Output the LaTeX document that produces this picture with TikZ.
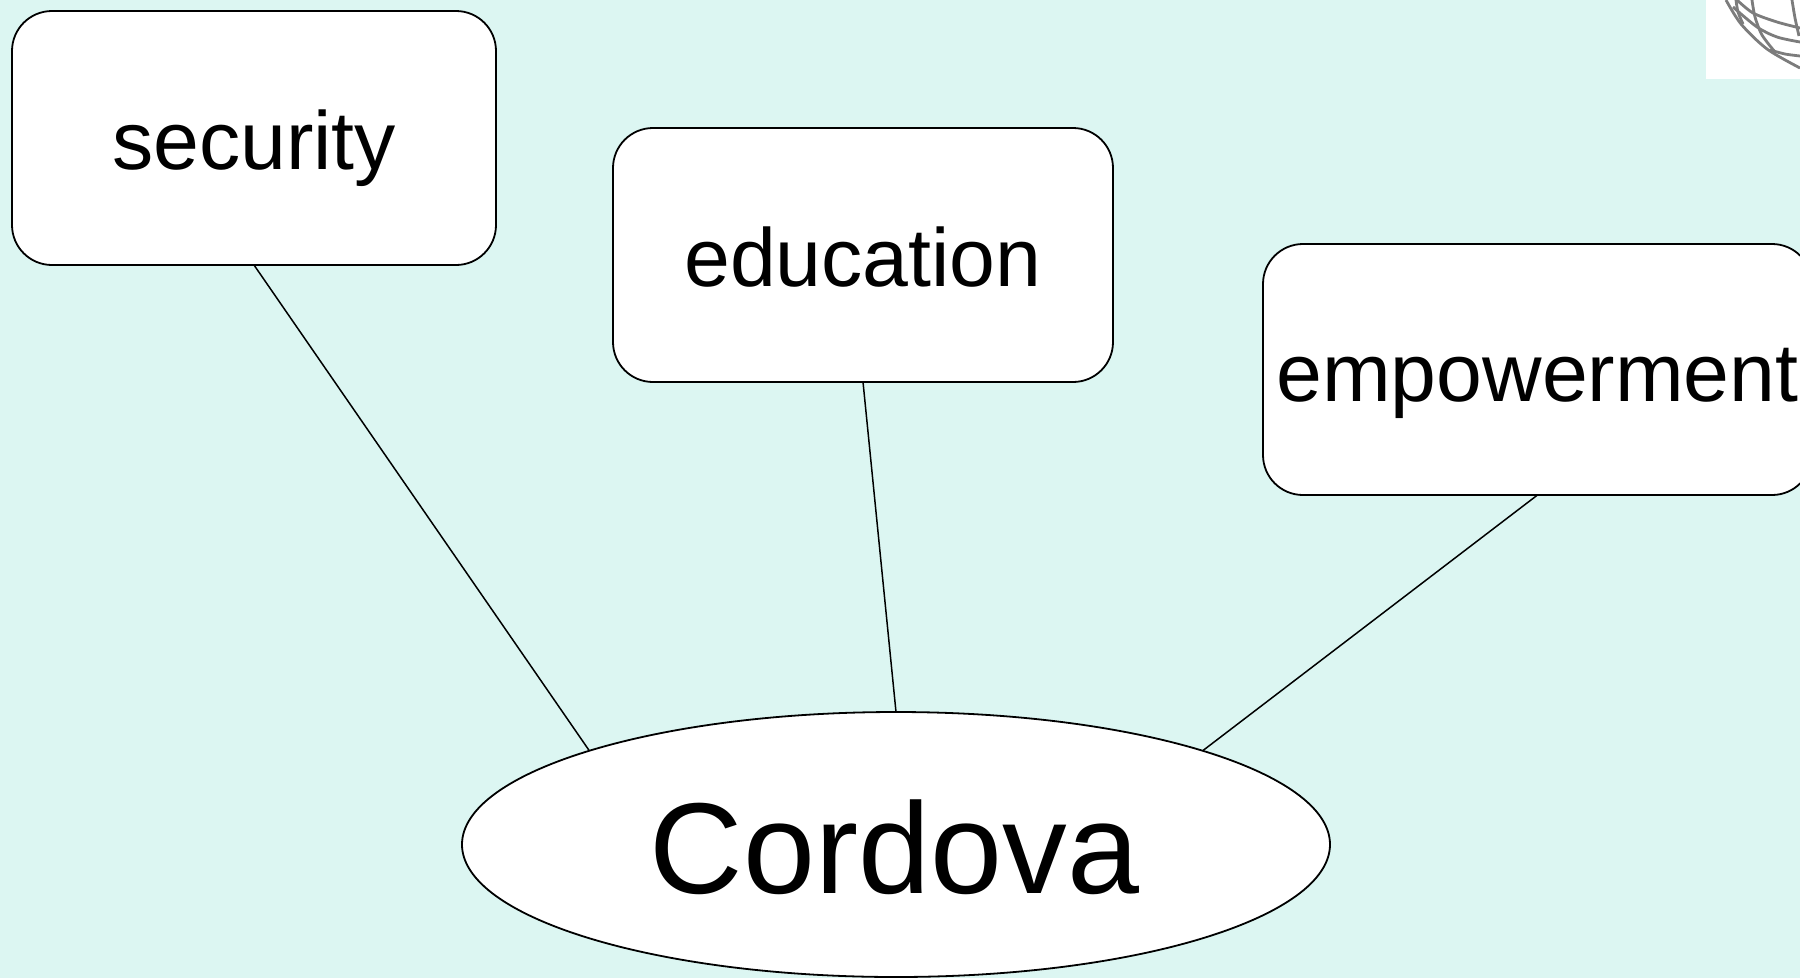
\documentclass[tikz,border=0pt]{standalone}
\usepackage{fontspec}
\setmainfont{Liberation Sans}
\usetikzlibrary{shapes.geometric}
\definecolor{bgmint}{HTML}{DCF6F2}
\definecolor{globegray}{HTML}{7C7C7C}
\tikzset{
  x=1pt,y=-1pt,
  topicbox/.style={draw=black,line width=1.8pt,fill=white,rounded corners=40pt,inner sep=0pt,outer sep=0pt,
    font=\fontsize{82.4}{83}\selectfont,text height=63pt,text depth=0pt,anchor=center},
  hub/.style={ellipse,draw=black,line width=1.8pt,fill=white,inner sep=0pt,outer sep=0pt,
    minimum width=868pt,minimum height=265pt,
    font=\fontsize{129.4}{130}\selectfont,text height=98pt,text depth=0pt},
  link/.style={draw=black,line width=1.5pt},
  globeline/.style={draw=globegray,line width=2.8pt}
}
\begin{document}
\begin{tikzpicture}
\useasboundingbox (0,0) rectangle (1800,978);
\clip (0,0) rectangle (1800,978);
\fill[bgmint] (0,0) rectangle (1800,978);
% logo fragment
\fill[white] (1706,0) rectangle (1800,79);
\draw[globeline] plot[smooth] coordinates {(1726,0) (1741,24) (1767,49) (1800,68)};
\draw[globeline] plot[smooth] coordinates {(1737,0) (1753,13) (1777,22) (1800,28)};
\draw[globeline] plot[smooth] coordinates {(1733,7) (1757,27) (1777,37) (1800,42)};
\draw[globeline] plot[smooth] coordinates {(1752,0) (1755,17) (1762,35) (1775,52)};
\draw[globeline] plot[smooth] coordinates {(1770,50) (1785,54) (1800,56)};
\draw[globeline] plot[smooth] coordinates {(1792,0) (1795,18) (1799,36)};
\draw[globeline] plot[smooth] coordinates {(1736,0) (1738,12) (1743,24)};
% nodes
\node[topicbox,minimum width=484pt,minimum height=254pt] (security) at (254,138) {security};
\node[topicbox,minimum width=500pt,minimum height=254pt] (education) at (863,255) {education};
\node[topicbox,minimum width=549pt,minimum height=251pt] (empowerment) at (1537.5,369.5) {empowerment};
\node[hub] (cordova) at (896,844.5) {\hspace*{-3pt}Cordova};
% connectors
\draw[link] (security.south) -- (cordova.163);
\draw[link] (education.south) -- (cordova.north);
\draw[link] (empowerment.south) -- (cordova.17);
\end{tikzpicture}
\end{document}
